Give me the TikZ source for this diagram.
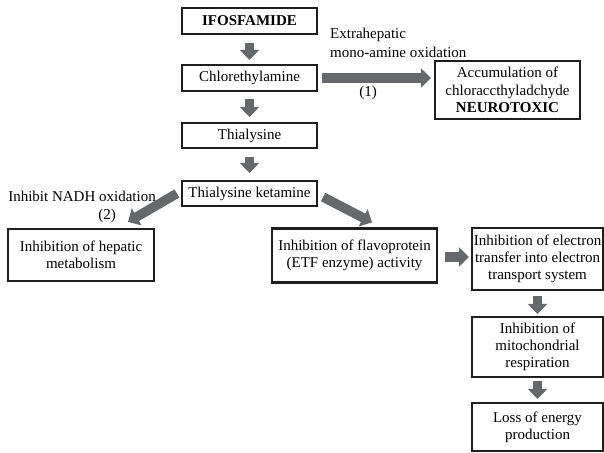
\documentclass[tikz,border=0pt]{standalone}
\usepackage{fontspec}
\setmainfont{Liberation Serif}
\usetikzlibrary{arrows.meta}
\definecolor{arrowgray}{HTML}{67686B}
\definecolor{boxline}{HTML}{1E1E1E}
\tikzset{
  box/.style={draw=boxline, line width=2.2pt, fill=white, align=center, inner sep=0pt,
    font=\fontsize{15}{17.3}\selectfont, text=black},
  fat/.style={draw=arrowgray, line width=9.5pt, -{Triangle[width=19pt,length=10pt]}, color=arrowgray},
  lbl/.style={font=\fontsize{15}{19}\selectfont, inner sep=0pt, text=black}
}
\begin{document}
\begin{tikzpicture}[x=1pt,y=-1pt]
\useasboundingbox (0,0) rectangle (604,452);
% boxes
\node[box, minimum width=135pt, minimum height=26pt] (ifo) at (249.5,21) {\textbf{IFOSFAMIDE}};
\node[box, minimum width=135pt, minimum height=26pt] (chl) at (249.5,78) {Chlorethylamine};
\node[box, minimum width=135pt, minimum height=25pt] (thi) at (249.5,135.5) {Thialysine};
\node[box, minimum width=135pt, minimum height=25pt] (ket) at (249.5,193.5) {Thialysine ketamine};
\node[box, minimum width=145pt, minimum height=58pt] (acc) at (507.5,90) {Accumulation of\\chloraccthyladchyde\\\textbf{NEUROTOXIC}};
\node[box, minimum width=146pt, minimum height=52pt] (hep) at (81,255) {Inhibition of hepatic\\metabolism};
\node[box, minimum width=165pt, minimum height=54pt] (fla) at (354.5,255.5) {Inhibition of flavoprotein\\(ETF enzyme) activity};
\node[box, minimum width=131pt, minimum height=62pt] (ele) at (537.5,259) {Inhibition of electron\\transfer into electron\\transport system};
\node[box, minimum width=131pt, minimum height=60pt] (mit) at (537.5,347) {Inhibition of\\mitochondrial\\respiration};
\node[box, minimum width=131pt, minimum height=48pt] (los) at (537.5,427) {Loss of energy\\production};
% labels
\node[lbl, anchor=west, align=left] (ext) at (330,42.5) {Extrahepatic\\mono\textbf{-}amine oxidation};
\node[lbl] (one) at (368,93) {(1)};
\node[lbl] (nadh) at (82,196) {Inhibit NADH oxidation};
\node[lbl] (two) at (107,216) {(2)};
% arrows
\draw[fat, shorten <=8pt, shorten >=4pt] (ifo.south) -- (chl.north);
\draw[fat, shorten <=7pt, shorten >=5pt] (chl.south) -- (thi.north);
\draw[fat, shorten <=8pt, shorten >=7pt] (thi.south) -- (ket.north);
\draw[fat, shorten <=4pt, shorten >=3pt] (chl.east) -- (chl.east -| acc.west);
\draw[fat, shorten <=0pt] ([xshift=-4pt]ket.west) -- ([xshift=47pt,yshift=6pt]hep.north);
\draw[fat, shorten <=0pt] ([xshift=5pt,yshift=-3.5pt]ket.east) -- ([xshift=17.5pt,yshift=5pt]fla.north);
\draw[fat, shorten <=7pt, shorten >=2pt] ([yshift=-1.5pt]fla.east) -- ([yshift=-1.5pt]fla.east -| ele.west);
\draw[fat, shorten <=5pt, shorten >=2pt] (ele.south) -- (mit.north);
\draw[fat, shorten <=3pt, shorten >=3pt] (mit.south) -- (los.north);
\end{tikzpicture}
\end{document}
